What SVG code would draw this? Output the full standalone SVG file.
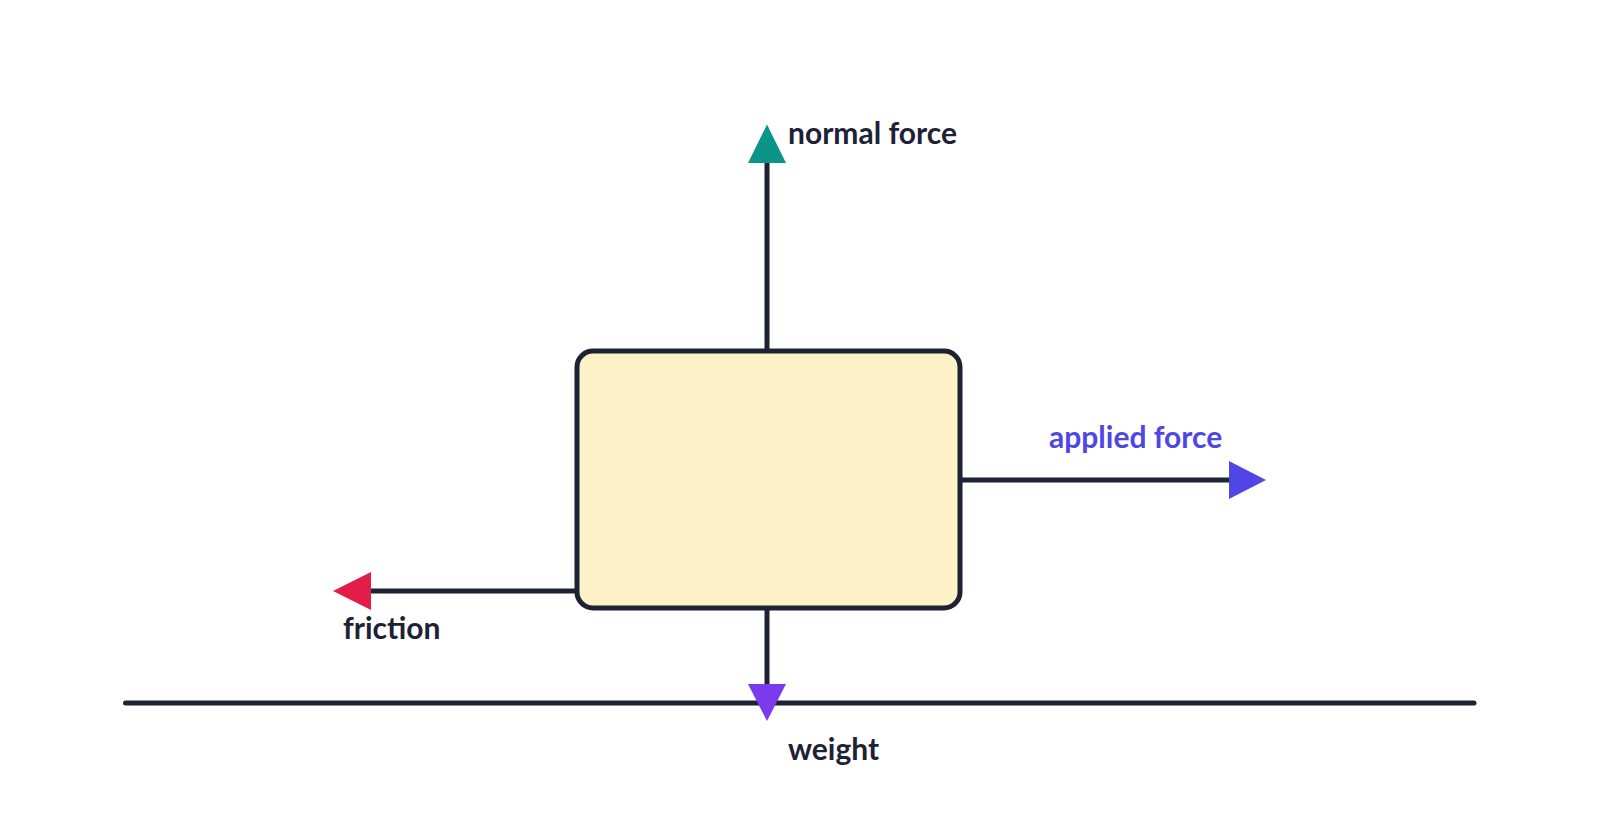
<svg xmlns="http://www.w3.org/2000/svg" width="1600" height="832" viewBox="0 0 1600 832">
<style>
.ln{stroke:#1e2235;stroke-width:5;fill:none}
.lbl{font-family:Lato,"Liberation Sans",sans-serif;font-weight:bold;font-size:30px;fill:#1e2235}
</style>
<rect width="1600" height="832" fill="#fff"/>
<g id="connectors">
<line class="ln" x1="125.5" y1="703" x2="1474" y2="703" stroke-linecap="round"/>
<line class="ln" x1="767" y1="351" x2="767" y2="160"/>
<polygon points="767,124.5 748,163 786,163" fill="#0d9488"/>
<line class="ln" x1="960" y1="480" x2="1232" y2="480"/>
<polygon points="1266,480 1229,461 1229,499" fill="#4f46e5"/>
<line class="ln" x1="575" y1="591" x2="368" y2="591"/>
<polygon points="333,591 371,572 371,610" fill="#e11d48"/>
<line class="ln" x1="767" y1="608" x2="767" y2="687"/>
<polygon points="767,721 748,684 786,684" fill="#7c3aed"/>
</g>
<g id="block">
<rect x="577" y="351" width="383" height="257" rx="16" fill="#fdf2c7" stroke="#1e2235" stroke-width="5"/>
</g>
<g id="labels">
<text class="lbl" x="788" y="144">normal force</text>
<text class="lbl" x="1049" y="448" style="fill:#4f46e5">applied force</text>
<text class="lbl" x="343" y="639">friction</text>
<text class="lbl" x="788" y="760">weight</text>
</g>
</svg>
